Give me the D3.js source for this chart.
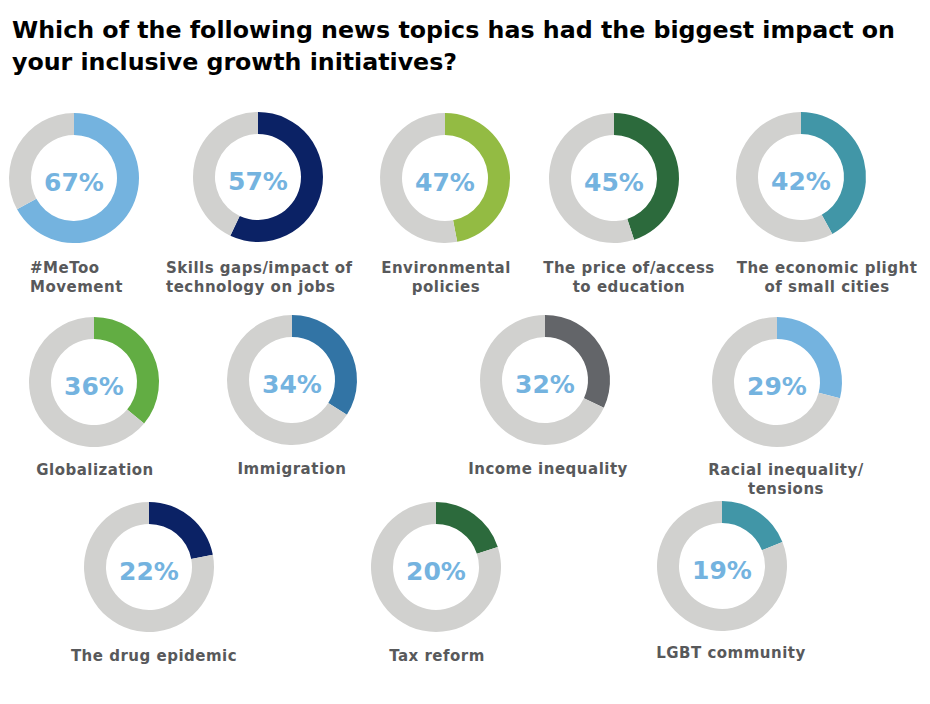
<!DOCTYPE html>
<html>
<head>
<meta charset="utf-8">
<script src="https://cdn.jsdelivr.net/npm/d3@7"></script>
<style>
  html, body { margin: 0; padding: 0; background: #fff; }
  svg { display: block; }
</style>
</head>
<body>
<svg id="chart" width="930" height="704"></svg>
<script>
// ---- data ----
const titleLines = [
  "Which of the following news topics has had the biggest impact on",
  "your inclusive growth initiatives?"
];
const topics = [
  ["#MeToo", "Movement"],
  ["Skills gaps/impact of", "technology on jobs"],
  ["Environmental", "policies"],
  ["The price of/access", "to education"],
  ["The economic plight", "of small cities"],
  ["Globalization"],
  ["Immigration"],
  ["Income inequality"],
  ["Racial inequality/", "tensions"],
  ["The drug epidemic"],
  ["Tax reform"],
  ["LGBT community"]
];
const values = [67, 57, 47, 45, 42, 36, 34, 32, 29, 22, 20, 19];

// ---- style ----
const palette = ["#74b3df", "#0b2265", "#93bb43", "#2c6a3c", "#4196a7",
                 "#62ad43", "#3274a5", "#636569", "#74b3df", "#0b2265",
                 "#2c6a3c", "#4196a7"];
const restColor = "#d1d1cf";

// ---- layout (donut centres, label anchors) ----
const layout = [
  {cx: 74,  cy: 178, lx: 30,  anchor: "start",  ly: 273},
  {cx: 258, cy: 177, lx: 166, anchor: "start",  ly: 273},
  {cx: 445, cy: 178, lx: 446, anchor: "middle", ly: 273},
  {cx: 614, cy: 178, lx: 629, anchor: "middle", ly: 273},
  {cx: 801, cy: 177, lx: 827, anchor: "middle", ly: 273},
  {cx: 94,  cy: 382, lx: 95,  anchor: "middle", ly: 475},
  {cx: 292, cy: 380, lx: 292, anchor: "middle", ly: 474},
  {cx: 545, cy: 380, lx: 548, anchor: "middle", ly: 474},
  {cx: 777, cy: 382, lx: 786, anchor: "middle", ly: 475},
  {cx: 149, cy: 567, lx: 154, anchor: "middle", ly: 661},
  {cx: 436, cy: 567, lx: 437, anchor: "middle", ly: 661},
  {cx: 722, cy: 566, lx: 731, anchor: "middle", ly: 658}
];

const svg = d3.select("#chart");

// title
svg.append("g").selectAll("text")
  .data(titleLines)
  .join("text")
  .attr("x", 12)
  .attr("y", (d, i) => 38 + i * 32)
  .attr("font-family", "'DejaVu Sans', Verdana, sans-serif")
  .attr("font-weight", "bold")
  .attr("font-size", 23)
  .attr("fill", "#000")
  .attr("textLength", (d, i) => i === 0 ? 883 : 445)
  .attr("lengthAdjust", "spacingAndGlyphs")
  .text(d => d);

const outerR = 65, innerR = 43;
const arc = d3.arc().innerRadius(innerR).outerRadius(outerR);
const pie = d3.pie().sort(null).value(d => d);

const items = values.map((v, i) => ({v, i, topic: topics[i], pos: layout[i], color: palette[i]}));

const g = svg.append("g").selectAll("g.donut")
  .data(items)
  .join("g")
  .attr("class", "donut");

g.each(function(d) {
  const sel = d3.select(this);
  const donut = sel.append("g").attr("transform", `translate(${d.pos.cx},${d.pos.cy})`);
  const slices = pie([d.v, 100 - d.v]);
  donut.selectAll("path")
    .data(slices)
    .join("path")
    .attr("d", arc)
    .attr("fill", (s, j) => j === 0 ? d.color : restColor);
  donut.append("text")
    .attr("text-anchor", "middle")
    .attr("y", 13)
    .attr("font-family", "'DejaVu Sans', Verdana, sans-serif")
    .attr("font-weight", "bold")
    .attr("font-size", 25)
    .attr("fill", "#74b3df")
    .text(d.v + "%");

  sel.append("g").selectAll("text")
    .data(d.topic)
    .join("text")
    .attr("x", d.pos.lx)
    .attr("y", (t, k) => d.pos.ly + k * 19)
    .attr("text-anchor", d.pos.anchor)
    .attr("font-family", "'DejaVu Sans', Verdana, sans-serif")
    .attr("font-weight", "bold")
    .attr("font-size", 15)
    .attr("letter-spacing", 0.5)
    .attr("fill", "#58595b")
    .text(t => t);
});
</script>
</body>
</html>
